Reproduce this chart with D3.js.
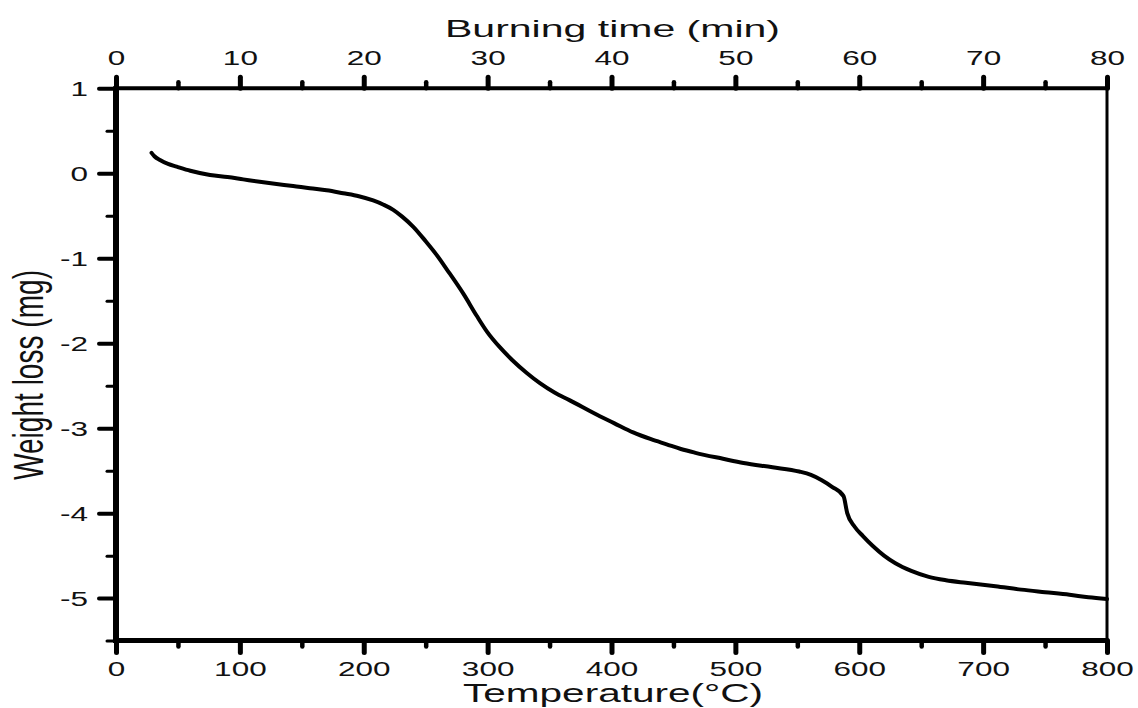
<!DOCTYPE html>
<html><head><meta charset="utf-8">
<script src="https://cdn.jsdelivr.net/npm/d3@7"></script>
<style>
html,body{margin:0;padding:0;background:#fff;}
svg{display:block;}
text{font-family:Arial,"Liberation Sans",sans-serif;fill:#111;}
</style></head>
<body>
<svg id="c" width="1138" height="708"></svg>
<script>
// ---- data ----
const temperature = [28.7,31,35.5,42,49,60,75.9,90,102.7,116,129.6,143,156.5,170,183.4,196,207.6,216,223.8,231,240,250,258.8,267,280.5,291.3,299.3,310,320,331.6,342.2,354,366,390.6,402,417.5,431.9,444.5,456,467.8,490,506.6,530,551.5,561,569.4,578,587.3,590.3,596.3,603,611.2,620,629.2,642,656.1,670,686,710,730.8,750,769.7,785,800];
const weightLoss = [0.24,0.20,0.156,0.11,0.078,0.03,-0.02,-0.045,-0.072,-0.10,-0.126,-0.15,-0.177,-0.20,-0.235,-0.27,-0.32,-0.37,-0.43,-0.51,-0.63,-0.80,-0.96,-1.13,-1.42,-1.68,-1.86,-2.05,-2.20,-2.35,-2.47,-2.58,-2.67,-2.86,-2.94,-3.05,-3.13,-3.19,-3.245,-3.29,-3.36,-3.41,-3.46,-3.51,-3.55,-3.61,-3.69,-3.80,-4.0,-4.16,-4.27,-4.39,-4.50,-4.59,-4.68,-4.75,-4.79,-4.82,-4.86,-4.90,-4.93,-4.96,-4.99,-5.01];
const tempTicks = [0,100,200,300,400,500,600,700,800];
const tempMinor = [50,150,250,350,450,550,650,750];
const timeTicks = [0,10,20,30,40,50,60,70,80];
const timeMinor = [5,15,25,35,45,55,65,75];
const yTicks = [1,0,-1,-2,-3,-4,-5];
const yMinor = [0.5,-0.5,-1.5,-2.5,-3.5,-4.5,-5.5];
const titleTop = "Burning time (min)";
const titleBottom = "Temperature(°C)";
const titleLeft = "Weight loss (mg)";

// ---- layout ----
const L = 116, R = 1107, T = 88.3, B = 640.6;
const svg = d3.select("#c");
svg.append("rect").attr("width",1138).attr("height",708).attr("fill","#fff");

const x = d3.scaleLinear().domain([0,800]).range([L,R]);
const xt = d3.scaleLinear().domain([0,80]).range([L,R]);
const y = d3.scaleLinear().domain([-5.5,1]).range([B,T]);
const SX = 1.5;
const fmt = d => String(d);

function styleAxis(g, w){
  g.select(".domain").remove();
  g.selectAll(".tick line").attr("stroke","#000").attr("stroke-width",w).attr("stroke-linecap","round");
}
function styleText(sel){
  sel.attr("font-size",21).attr("transform",`scale(${SX},1)`)
    .style("font-family","Arial, 'Liberation Sans', sans-serif").attr("fill","#111");
}

// bottom
const gb = svg.append("g").attr("transform",`translate(0,${B})`)
  .call(d3.axisBottom(x).tickValues(tempTicks).tickSize(12).tickSizeOuter(0).tickFormat(fmt));
styleAxis(gb,5);
styleText(gb.selectAll(".tick text").attr("y",35).attr("dy",0));
const gbm = svg.append("g").attr("transform",`translate(0,${B})`)
  .call(d3.axisBottom(x).tickValues(tempMinor).tickSize(6).tickSizeOuter(0).tickFormat(""));
styleAxis(gbm,4.5);

// top
const gt = svg.append("g").attr("transform",`translate(0,${T})`)
  .call(d3.axisTop(xt).tickValues(timeTicks).tickSize(11).tickSizeOuter(0).tickFormat(fmt));
styleAxis(gt,5);
styleText(gt.selectAll(".tick text").attr("y",-23).attr("dy",0));
const gtm = svg.append("g").attr("transform",`translate(0,${T})`)
  .call(d3.axisTop(xt).tickValues(timeMinor).tickSize(6).tickSizeOuter(0).tickFormat(""));
styleAxis(gtm,4.5);

// left
const gl = svg.append("g").attr("transform",`translate(${L},0)`)
  .call(d3.axisLeft(y).tickValues(yTicks).tickSize(17).tickSizeOuter(0).tickFormat(fmt));
styleAxis(gl,4);
styleText(gl.selectAll(".tick text").attr("x",-28/SX).attr("dy","0.35em"));
const glm = svg.append("g").attr("transform",`translate(${L},0)`)
  .call(d3.axisLeft(y).tickValues(yMinor).tickSize(9).tickSizeOuter(0).tickFormat(""));
styleAxis(glm,3);

// frame
svg.append("line").attr("x1",L).attr("x2",R).attr("y1",T).attr("y2",T).attr("stroke","#000").attr("stroke-width",4);
svg.append("line").attr("x1",L).attr("x2",R).attr("y1",B).attr("y2",B).attr("stroke","#000").attr("stroke-width",5);
svg.append("line").attr("x1",R).attr("x2",R).attr("y1",T).attr("y2",B).attr("stroke","#000").attr("stroke-width",3);
svg.append("line").attr("x1",L).attr("x2",L).attr("y1",T-2).attr("y2",B+2.5).attr("stroke","#000").attr("stroke-width",6);

// curve
const pts = temperature.map((t,i)=>[t,weightLoss[i]]);
svg.append("path").datum(pts)
  .attr("fill","none").attr("stroke","#000").attr("stroke-width",4).attr("stroke-linecap","round").attr("stroke-linejoin","round")
  .attr("d",d3.line().x(d=>x(d[0])).y(d=>y(d[1])).curve(d3.curveMonotoneX));

// titles
svg.append("text").attr("x",612.5).attr("y",37).attr("text-anchor","middle").attr("font-size",24)
  .attr("textLength",335).attr("lengthAdjust","spacingAndGlyphs").text(titleTop);
svg.append("text").attr("x",613).attr("y",702).attr("text-anchor","middle").attr("font-size",26)
  .attr("textLength",300).attr("lengthAdjust","spacingAndGlyphs").text(titleBottom);
svg.append("text").attr("transform","translate(43,375) scale(1.6,1) rotate(-90)").attr("text-anchor","middle")
  .attr("font-size",26).attr("textLength",210).attr("lengthAdjust","spacingAndGlyphs").text(titleLeft);
</script>
</body></html>
